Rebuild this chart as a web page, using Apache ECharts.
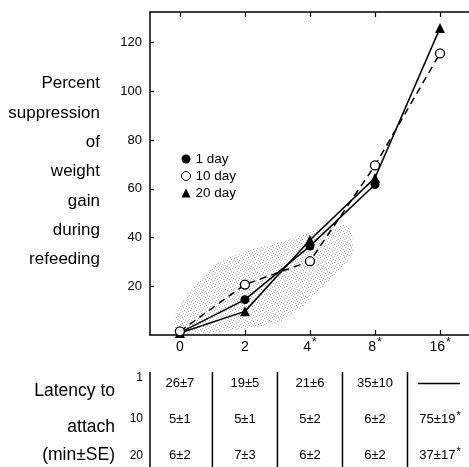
<!DOCTYPE html>
<html><head><meta charset="utf-8">
<script src="https://cdn.jsdelivr.net/npm/echarts@6/dist/echarts.min.js"></script>
<style>html,body{margin:0;padding:0;background:#fff}#c{width:469px;height:467px}</style>
</head><body><div id="c"></div>
<script>
// ---- data ----
const xTickLabels = ['0', '2', '4*', '8*', '16*'];
const xPositions = [0, 1, 2, 3, 4];
const seriesNames = ['1 day', '10 day', '20 day'];
const day1 = [1, 14.5, 36.5, 61.8, null];
const day10 = [1.5, 20.7, 30.3, 69.6, 115.6];
const day20 = [0.8, 9.7, 39, 64.5, 126];
const yTicks = [20, 40, 60, 80, 100, 120];
const stippleX = [-0.1, 0.05, 0.55, 1.1, 1.6, 2.1, 2.6, 2.65, 2.1, 1.6, 1.1, 0.55, 0.0];
const stippleY = [5, 14, 29, 35, 38.5, 43, 45, 33, 17, 6, 3, 1, 0.3];
const yTitle = ['Percent', 'suppression', 'of', 'weight', 'gain', 'during', 'refeeding'];
const tableTitle = ['Latency to', 'attach', '(min±SE)'];
const rowLabels = ['1', '10', '20'];
const latency1 = ['26±7', '19±5', '21±6', '35±10', '—'];
const latency10 = ['5±1', '5±1', '5±2', '6±2', '75±19*'];
const latency20 = ['6±2', '7±3', '6±2', '6±2', '37±17*'];

// ---- chart ----
const FONT = '"Liberation Sans", Arial, sans-serif';
const chart = echarts.init(document.getElementById('c'), null, {renderer: 'canvas'});
const pairs = arr => xPositions.map((x, i) => [x, arr[i]]).filter(p => p[1] != null);
const supRich = (size, lh) => ({
  n: {fontFamily: FONT, fontSize: size, color: '#000', lineHeight: lh, verticalAlign: 'middle'},
  s: {fontFamily: FONT, fontSize: size - 2, color: '#000', verticalAlign: 'top', padding: [0, 0, 0, 1]}
});
const supText = t => t.endsWith('*') ? '{n|' + t.slice(0, -1) + '}{s|*}' : '{n|' + t + '}';

// stipple texture (fixed dot pattern)
const pat = document.createElement('canvas');
pat.width = 6; pat.height = 6;
const pctx = pat.getContext('2d');
pctx.fillStyle = 'rgba(0,0,0,0.28)';
[[0, 0], [3, 1], [1, 3], [4, 4], [5, 2], [2, 5]].forEach(p => pctx.fillRect(p[0], p[1], 1, 1));

const XMIN = -0.46, XMAX = 4.446;
const axisLine = {show: true, onZero: false, lineStyle: {color: '#000', width: 1.5}};

chart.setOption({
  animation: false,
  backgroundColor: '#fff',
  grid: {left: 150, right: 0, top: 12, bottom: 132, containLabel: false},
  legend: {
    orient: 'vertical', left: 176, top: 147, itemWidth: 9, itemHeight: 9, itemGap: 3,
    textStyle: {fontFamily: FONT, fontSize: 13.5, color: '#000'},
    data: [
      {name: '1 day', icon: 'circle'},
      {name: '10 day', icon: 'circle', itemStyle: {color: '#fff', borderColor: '#000', borderWidth: 1}},
      {name: '20 day', icon: 'triangle'}
    ]
  },
  xAxis: [
    {
      type: 'value', min: XMIN, max: XMAX, position: 'bottom',
      axisLine: axisLine, splitLine: {show: false},
      axisTick: {show: true, inside: true, length: 5, customValues: xPositions, lineStyle: {color: '#000', width: 1.2}},
      axisLabel: {
        customValues: xPositions, margin: 2, color: '#000',
        formatter: v => supText(xTickLabels[xPositions.indexOf(v)] || ''),
        rich: supRich(14, 20)
      }
    },
    {
      type: 'value', min: XMIN, max: XMAX, position: 'top',
      axisLine: axisLine, splitLine: {show: false},
      axisTick: {show: true, inside: true, length: 5, customValues: xPositions, lineStyle: {color: '#000', width: 1.2}},
      axisLabel: {show: false}
    }
  ],
  yAxis: {
    type: 'value', min: 0, max: 132.6,
    axisLine: axisLine, splitLine: {show: false},
    axisTick: {show: true, inside: true, length: 4, customValues: yTicks, lineStyle: {color: '#000', width: 1.2}},
    axisLabel: {customValues: yTicks, margin: 8, color: '#000', fontFamily: FONT, fontSize: 13}
  },
  series: [
    {
      type: 'custom', name: 'stipple', silent: true, z: 1,
      data: [[0, 0]],
      renderItem: (params, api) => ({
        type: 'polygon',
        shape: {points: stippleX.map((x, i) => api.coord([x, stippleY[i]])), smooth: 0.2},
        style: {fill: {image: pat, repeat: 'repeat'}}
      })
    },
    {
      name: seriesNames[0], type: 'line', z: 3, data: pairs(day1),
      symbol: 'circle', symbolSize: 9,
      itemStyle: {color: '#000'}, lineStyle: {color: '#000', width: 1.5}
    },
    {
      name: seriesNames[1], type: 'line', z: 4, data: pairs(day10),
      symbol: 'circle', symbolSize: 9,
      itemStyle: {color: '#fff', borderColor: '#000', borderWidth: 1.3},
      lineStyle: {color: '#000', width: 1.5, type: [7, 5]}
    },
    {
      name: seriesNames[2], type: 'line', z: 3, data: pairs(day20),
      symbol: 'triangle', symbolSize: 10,
      itemStyle: {color: '#000'}, lineStyle: {color: '#000', width: 1.5}
    }
  ]
});

// ---- text blocks and table ----
const g = [];
const titleY = [83, 113, 142, 171, 201, 230, 259];
yTitle.forEach((t, i) => g.push({
  type: 'text', x: 100, y: titleY[i],
  style: {text: t, fill: '#000', font: '17px ' + FONT, textAlign: 'right', textVerticalAlign: 'middle'}
}));
const tTitleY = [391, 427, 455];
tableTitle.forEach((t, i) => g.push({
  type: 'text', x: 115, y: tTitleY[i],
  style: {text: t, fill: '#000', font: '17.5px ' + FONT, textAlign: 'right', textVerticalAlign: 'middle'}
}));
const rowY = [383, 419, 455];
const rowLabelY = [378, 419, 456];
rowLabels.forEach((t, i) => g.push({
  type: 'text', x: 143, y: rowLabelY[i],
  style: {text: t, fill: '#000', font: '12px ' + FONT, textAlign: 'right', textVerticalAlign: 'middle'}
}));
// vertical separators
const sepVals = [XMIN, 0.5, 1.5, 2.5, 3.5];
sepVals.forEach(v => {
  const px = chart.convertToPixel({xAxisIndex: 0}, v);
  g.push({type: 'line', shape: {x1: px, y1: 372, x2: px, y2: 467}, style: {stroke: '#000', lineWidth: 1.5}});
});
[latency1, latency10, latency20].forEach((row, r) => {
  row.forEach((t, c) => {
    const px = chart.convertToPixel({xAxisIndex: 0}, xPositions[c]);
    if (t === '—') {
      g.push({type: 'line', shape: {x1: px - 22, y1: rowY[r] + 0.5, x2: px + 20, y2: rowY[r] + 0.5}, style: {stroke: '#000', lineWidth: 1.5}});
    } else {
      g.push({
        type: 'text', x: px, y: rowY[r],
        style: {text: supText(t), rich: supRich(13, 18), textAlign: 'center', textVerticalAlign: 'middle'}
      });
    }
  });
});
chart.setOption({graphic: g});
</script></body></html>
